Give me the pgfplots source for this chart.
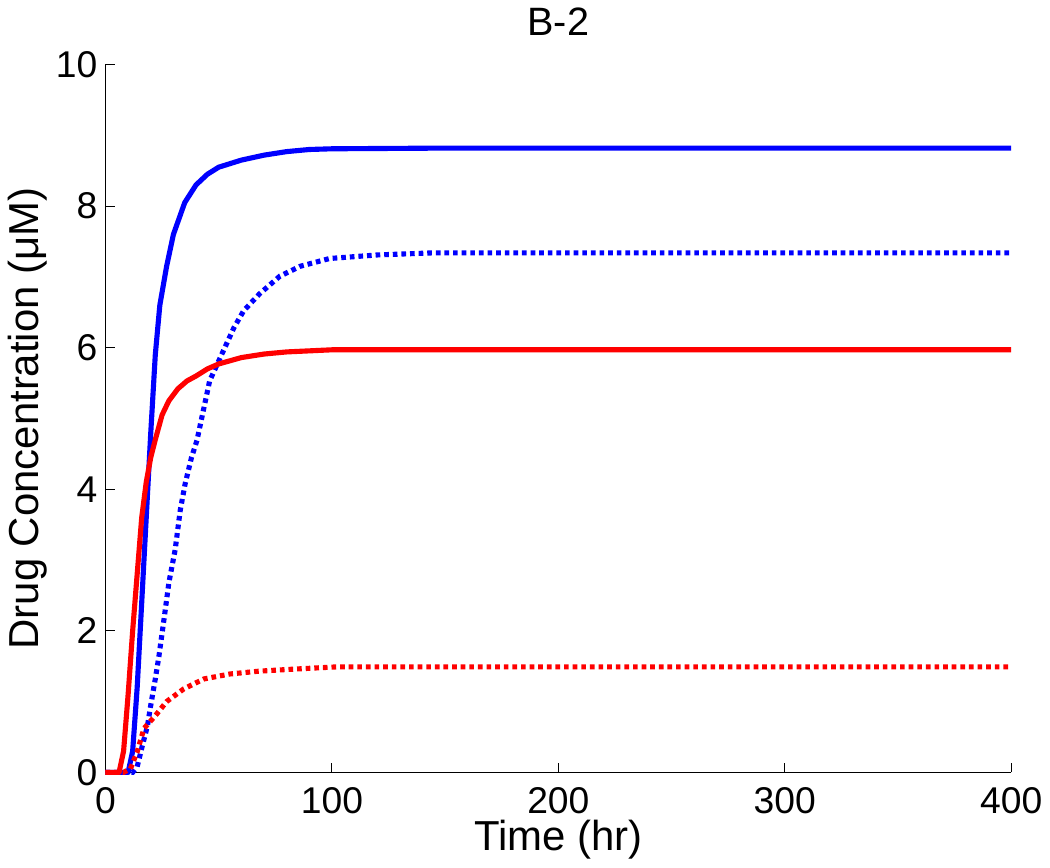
\documentclass[border=0pt]{standalone}
\usepackage{pgfplots}
\pgfplotsset{compat=1.18}
\usepackage{fontspec}
\setmainfont{Liberation Sans}

\definecolor{mblue}{RGB}{0,0,255}
\definecolor{mred}{RGB}{255,0,0}

\tikzset{
  solidc/.style={line width=2.2pt, line join=round},
  dotc/.style={line width=2.2pt, dash pattern=on 2pt off 1.7pt},
}

\begin{document}
\begin{tikzpicture}
\begin{axis}[
  scale only axis,
  width=389pt, height=304pt,
  xmin=0, xmax=400, ymin=0, ymax=10,
  axis lines*=left,
  axis line style={-, line width=0.5pt},
  tick align=inside,
  major tick length=4pt,
  tick style={line width=0.5pt, black},
  xtick={0,100,...,400},
  ytick={0,2,...,10},
  /pgf/number format/assume math mode=true,
  tick label style={font=\fontsize{16}{18}\selectfont},
  xticklabel style={yshift=-3pt},
  label style={font=\fontsize{18}{20}\selectfont},
  xlabel style={yshift=4pt},
  ylabel style={yshift=-3pt},
  title style={font=\fontsize{17}{19}\selectfont, yshift=3pt},
  title={B-2},
  xlabel={Time (hr)},
  ylabel={Drug Concentration (μM)},
  clip=false,
]
% blue solid
\addplot[mblue, solidc] coordinates {
(0,0) (10,0) (12,0.3) (14,1.2) (16,2.4) (18,3.6) (20,4.8) (22,5.9) (24,6.6)
(27,7.15) (30,7.6) (35,8.05) (40,8.3) (45,8.45) (50,8.55) (60,8.65) (70,8.72)
(80,8.77) (90,8.8) (100,8.81) (150,8.82) (400,8.82)};
% blue dotted
\addplot[mblue, dotc] coordinates {
(0,0) (12,0) (14,0.08) (16.3,0.38) (18.5,0.65) (20,0.95) (22,1.32) (23.6,1.64)
(26,2.2) (28,2.68) (30.8,3.15) (33,3.7) (35.2,4.08) (38,4.45) (40.4,4.69)
(46,5.53) (51.4,5.91) (56.7,6.28) (61,6.52) (68,6.76) (77,7.01) (86,7.15)
(99,7.26) (120,7.31) (145,7.34) (400,7.34)};
% red solid
\addplot[mred, solidc] coordinates {
(0,0) (6,0) (8,0.3) (10,1.1) (12,2.0) (14,2.8) (16,3.6) (18,4.1) (20,4.45)
(22,4.7) (25,5.05) (28,5.25) (32,5.42) (36,5.53) (40,5.6) (45,5.7) (50,5.77)
(60,5.86) (70,5.91) (80,5.94) (100,5.97) (400,5.97)};
% red dotted
\addplot[mred, dotc] coordinates {
(0,0) (8,0) (11,0.05) (14,0.29) (17,0.62) (22,0.8) (27,1.0) (34.6,1.18)
(43.5,1.32) (55,1.39) (68,1.43) (84,1.46) (102,1.49) (400,1.49)};
\end{axis}
\end{tikzpicture}
\end{document}
